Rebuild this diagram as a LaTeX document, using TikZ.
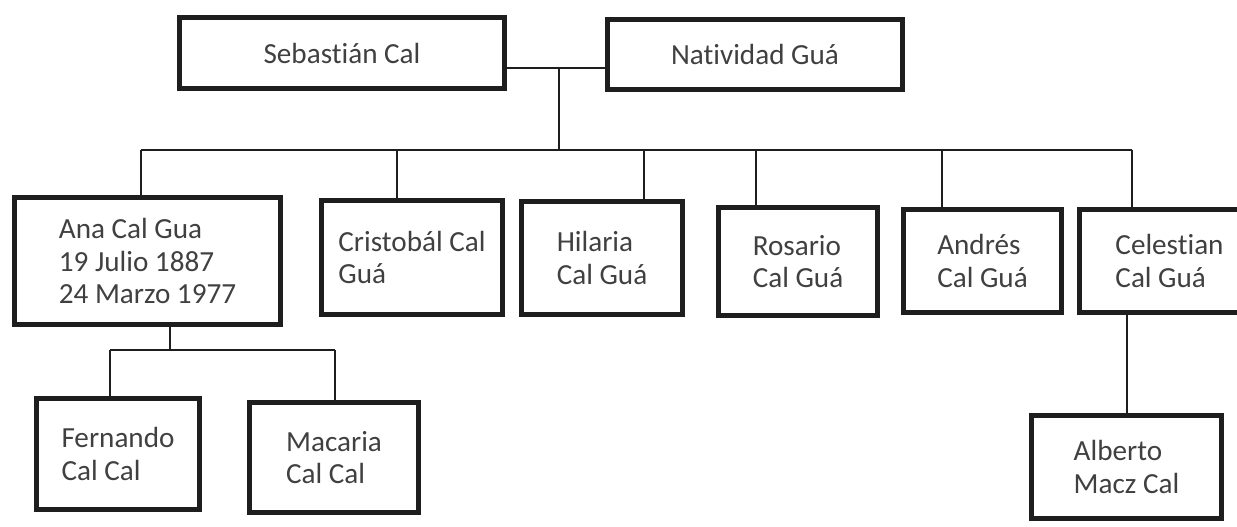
\documentclass[tikz,border=0pt]{standalone}
\usepackage{fontspec}
\setmainfont{Carlito}[Ligatures=NoCommon]
\definecolor{tinta}{HTML}{1E1E1E}

\tikzset{
  caja/.style={draw=tinta, line width=2.8pt, align=left, inner sep=0pt,
    text=tinta!85, font=\fontsize{16.6}{18.4}\selectfont},
  linea/.style={draw=tinta, line width=1.4pt},
}

% (name, x_left, x_right, y_top, y_bottom, text)
\newcommand{\persona}[6]{
    \node[caja, minimum width={(#3-#2-5)*0.569pt}, minimum height={(#5-#4-5)*0.569pt}]
      (#1) at ({(#2+#3)/2}, {(#4+#5)/2}) {#6};
}

\begin{document}
\begin{tikzpicture}[x=0.02cm, y=-0.02cm]
  \useasboundingbox (0,0) rectangle (1237,527);

  % padres
  \persona{seb}{177}{507}{15}{91}{Sebastián Cal}
  \persona{nat}{605}{905}{17}{92}{Natividad Guá}

  % hijos
  \persona{ana}{12}{283}{195}{327}{Ana Cal Gua\\19 Julio 1887\\24 Marzo 1977}
  \persona{cri}{319}{505}{198}{317}{Cristobál Cal\\Guá}
  \persona{hil}{519}{685}{199}{317}{Hilaria\\Cal Guá}
  \persona{ros}{716}{880}{205}{318}{Rosario\\Cal Guá}
  \persona{andr}{901}{1064}{207}{315}{Andrés\\Cal Guá}
  \persona{cel}{1077}{1262}{207}{315}{Celestian\\Cal Guá}

  % nietos
  \persona{fer}{34}{202}{396}{512}{Fernando\\Cal Cal}
  \persona{mac}{247}{421}{400}{515}{Macaria\\Cal Cal}
  \persona{alb}{1029}{1224}{413}{521}{Alberto\\Macz Cal}

  % matrimonio
  \coordinate (boda) at (559,68);
  \coordinate (hermanos) at (559,150);
  \draw[linea] (seb.east |- boda) -- (nat.west |- boda);
  \draw[linea] (boda) -- (hermanos);

  \foreach \hijo/\xx in {ana/141, cri/397, hil/644, ros/756, andr/942, cel/1132}{
    \coordinate (h\hijo) at (\xx,150);
    \draw[linea] (h\hijo) -- (h\hijo |- \hijo.north);
  }
  \draw[linea] (hana) -- (hcel);

  % hijos de Ana
  \coordinate (anabaja) at (170,350);
  \draw[linea] (ana.south -| anabaja) -- (anabaja);
  \coordinate (hfer) at (110,350);
  \coordinate (hmac) at (335,350);
  \draw[linea] (hfer) -- (hmac);
  \draw[linea] (hfer) -- (hfer |- fer.north);
  \draw[linea] (hmac) -- (hmac |- mac.north);

  % hijo de Celestian
  \coordinate (celbaja) at (1127,330);
  \draw[linea] (cel.south -| celbaja) -- (celbaja |- alb.north);

\end{tikzpicture}
\end{document}
